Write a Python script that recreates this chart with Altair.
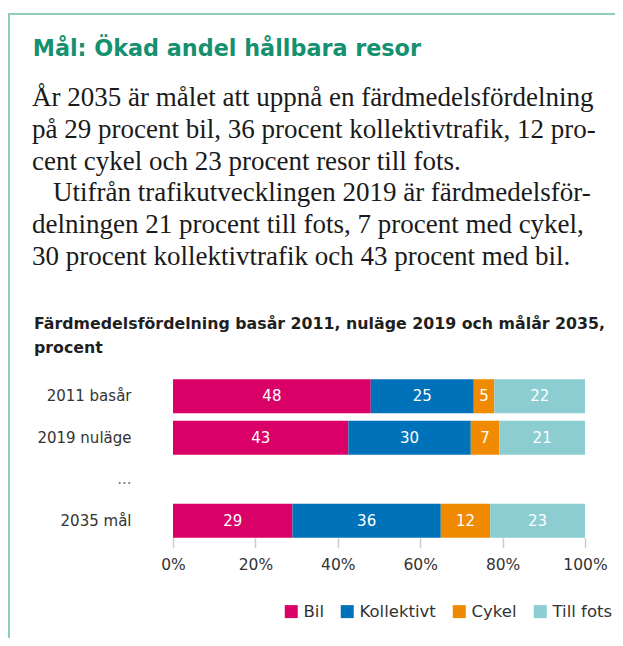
import altair as alt
import pandas as pd

# ---- data ----
years = ["2011 basår", "2019 nuläge", "2035 mål"]
row_labels = ["2011 basår", "2019 nuläge", "...", "2035 mål"]
modes = ["Bil", "Kollektivt", "Cykel", "Till fots"]
bil = [48, 43, 29]
kollektivt = [25, 30, 36]
cykel = [5, 7, 12]
till_fots = [22, 21, 23]
colors = ["#d90068", "#0072b9", "#f08a00", "#8bcdd0"]
x_ticks = [0, 0.2, 0.4, 0.6, 0.8, 1.0]

heading = "Mål: Ökad andel hållbara resor"
para1_lines = [
    "År 2035 är målet att uppnå en färdmedelsfördelning",
    "på 29 procent bil, 36 procent kollektivtrafik, 12 pro-",
    "cent cykel och 23 procent resor till fots.",
]
para2_first = "Utifrån trafikutvecklingen 2019 är färdmedelsför-"
para2_rest = [
    "delningen 21 procent till fots, 7 procent med cykel,",
    "30 procent kollektivtrafik och 43 procent med bil.",
]
chart_title_lines = [
    "Färdmedelsfördelning basår 2011, nuläge 2019 och målår 2035,",
    "procent",
]

rows = []
for j, (m, vals) in enumerate(zip(modes, [bil, kollektivt, cykel, till_fots])):
    for i, yr in enumerate(years):
        rows.append({"year": yr, "mode": m, "order": j, "value": vals[i]})
df = pd.DataFrame(rows)

SANS = "DejaVu Sans"
SERIF = "Liberation Serif"
FRAME = "#8ccfb4"
LH = 31.8

base = (
    alt.Chart(df)
    .transform_stack(
        stack="value",
        groupby=["year"],
        as_=["v0", "v1"],
        offset="normalize",
        sort=[alt.SortField("order", order="ascending")],
    )
    .transform_calculate(mid="(datum.v0 + datum.v1) / 2")
)

y_enc = alt.Y(
    "year:N",
    scale=alt.Scale(domain=row_labels, paddingInner=0.18, paddingOuter=0),
    axis=alt.Axis(
        title=None, domain=False, ticks=False, labelPadding=42,
        labelFontSize=15, labelFont=SANS,
        labelColor=alt.expr("datum.value == '...' ? '#777777' : '#333333'"),
    ),
)

bars = base.mark_bar().encode(
    x=alt.X(
        "v0:Q",
        scale=alt.Scale(domain=[0, 1], nice=False),
        axis=alt.Axis(
            values=x_ticks, format="%", title=None, domain=False, grid=False,
            tickColor="#cccccc", tickSize=10, tickWidth=1.5, labelPadding=10,
            labelFlush=False, labelFontSize=15.5, labelFont=SANS, labelColor="#333333",
        ),
    ),
    x2="v1:Q",
    y=y_enc,
    color=alt.Color(
        "mode:N",
        scale=alt.Scale(domain=modes, range=colors),
        legend=alt.Legend(
            orient="none", direction="horizontal", legendX=110, legendY=224,
            title=None, symbolType="square", symbolSize=169, symbolStrokeWidth=0,
            labelFontSize=16.5, labelFont=SANS, labelColor="#333333",
            columnPadding=15, labelOffset=4,
        ),
    ),
)

labels = base.mark_text(color="white", fontSize=15, font=SANS).encode(
    x="mid:Q", y=alt.Y("year:N"), text="value:Q"
)

one = alt.Data(values=[{}])


def note(text, x, y, **kw):
    return alt.Chart(one).mark_text(align="left", baseline="alphabetic", **kw).encode(
        x=alt.value(x), y=alt.value(y), text=alt.value(text)
    )


frame_left = alt.Chart(one).mark_rule(color=FRAME, strokeWidth=2).encode(
    x=alt.value(-164), y=alt.value(-365.25), y2=alt.value(260)
)
frame_top = alt.Chart(one).mark_rule(color=FRAME, strokeWidth=2).encode(
    x=alt.value(-165), x2=alt.value(445), y=alt.value(-365.25)
)

serif_kw = dict(font=SERIF, fontSize=27, lineHeight=LH, color="#1a1a1a")
head = note(heading, -140.3, -323.25, font=SANS, fontSize=22.3, fontWeight="bold", color="#15916f")
p1 = note(para1_lines, -141, -273.25, **serif_kw)
p2a = note(para2_first, -120, -273.25 + 3 * LH, **serif_kw)
p2b = note(para2_rest, -141, -273.25 + 4 * LH, **serif_kw)
sub = note(chart_title_lines, -139, -50.25, font=SANS, fontSize=15.8, fontWeight="bold",
           lineHeight=24, color="#1f1f1f")

chart = (
    alt.layer(frame_left, frame_top, head, p1, p2a, p2b, sub, bars, labels)
    .properties(
        width=412,
        height=158.5,
        padding={"left": 165, "top": 371.25, "right": 30, "bottom": 100.25},
        autosize=alt.AutoSizeParams(type="none"),
    )
    .configure_view(strokeWidth=0)
)

chart.save("out.html", embed_options={"renderer": "svg", "actions": False})
